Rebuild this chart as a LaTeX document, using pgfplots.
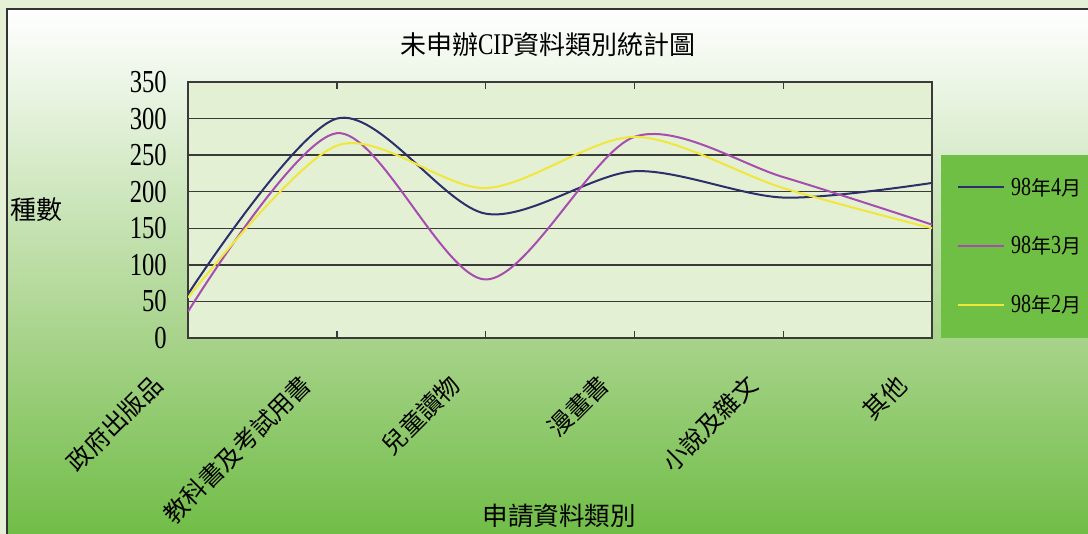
\documentclass[border=0pt]{standalone}
\usepackage{fontspec}
\setmainfont{Liberation Serif}[FakeStretch=0.77]
\newfontfamily\cjk{Noto Sans CJK TC}
\usepackage{pgfplots}
\pgfplotsset{compat=1.18}

\definecolor{outerbg}{HTML}{E5F0D7}
\definecolor{midc}{HTML}{A7D38A}
\definecolor{botc}{HTML}{6EBC44}
\definecolor{plotbg}{HTML}{E4F0D4}
\definecolor{legbg}{HTML}{6FBF45}
\definecolor{apr}{HTML}{2D2F6A}
\definecolor{mar}{HTML}{A64DB0}
\definecolor{feb}{HTML}{F0E63C}
\definecolor{gridc}{HTML}{3A3A3A}

% legend text: latin digits + CJK
\newcommand{\lgd}[2]{{\rmfamily\fontsize{26}{26}\selectfont #1}{\cjk\fontsize{20}{20}\selectfont 年}{\rmfamily\fontsize{26}{26}\selectfont #2}{\cjk\fontsize{20}{20}\selectfont 月}}

\begin{document}
\begin{tikzpicture}[x=1pt,y=1pt]
\useasboundingbox (0,0) rectangle (1088,534);
% background
\fill[outerbg] (0,0) rectangle (1088,534);
\shade[top color=white, bottom color=midc] (7,194) rectangle (1100,525);
\shade[top color=midc, bottom color=botc] (7,-10) rectangle (1100,194.5);
\draw[line width=2pt, draw=black!80] (7,-10) -- (7,525) -- (1100,525);
\fill[legbg] (941,196) rectangle (1100,379);

% titles
\node at (548,489) {\cjk\fontsize{26}{26}\selectfont 未申辦{\rmfamily\fontsize{30}{30}\selectfont CIP}資料類別統計圖};
\node at (36,324) {\cjk\fontsize{26}{26}\selectfont 種數};
\node at (559,18) {\cjk\fontsize{25.5}{26}\selectfont 申請資料類別};

\begin{axis}[
    at={(188pt,196pt)}, anchor=south west,
    scale only axis, width=744pt, height=256pt,
    xmin=0, xmax=5, ymin=0, ymax=350,
    xtick={0,1,2,3,4,5},
    xticklabels={政府出版品,教科書及考試用書,兒童讀物,漫畫書,小說及雜文,其他},
    ytick={0,50,...,350},
    axis background/.style={fill=plotbg},
    axis line style={draw=gridc, line width=1.6pt},
    ymajorgrids, grid style={gridc, line width=1.4pt},
    tick align=inside, major tick length=7pt,
    tick style={gridc, line width=1.4pt},
    /pgf/number format/assume math mode=true,
    yticklabel style={font=\fontsize{32}{32}\selectfont, anchor=east, inner sep=0pt, xshift=-21pt},
    xticklabel style={font=\cjk\fontsize{24.5}{25}\selectfont, inner sep=0pt, xshift=-30pt, yshift=-42pt, rotate=45, anchor=east},
    legend style={at={(1.0336,0.359)}, anchor=west, draw=none, fill=none,
        inner sep=0pt, row sep=40pt, nodes={inner sep=0pt},
        /tikz/every odd column/.append style={column sep=6pt}},
    legend image code/.code={\draw[#1] (0pt,0pt) -- (46pt,0pt);},
    legend cell align=left,
]
\addplot[apr, line width=2pt, smooth] coordinates {(0,60) (1,300) (2,170) (3,228) (4,192) (5,212)};
\addlegendentry{\lgd{98}{4}}
\addplot[mar, line width=2pt, smooth] coordinates {(0,36) (1,280) (2,80) (3,275) (4,220) (5,155)};
\addlegendentry{\lgd{98}{3}}
\addplot[feb, line width=2pt, smooth] coordinates {(0,55) (1,263) (2,205) (3,275) (4,205) (5,150)};
\addlegendentry{\lgd{98}{2}}
\end{axis}
\end{tikzpicture}
\end{document}
